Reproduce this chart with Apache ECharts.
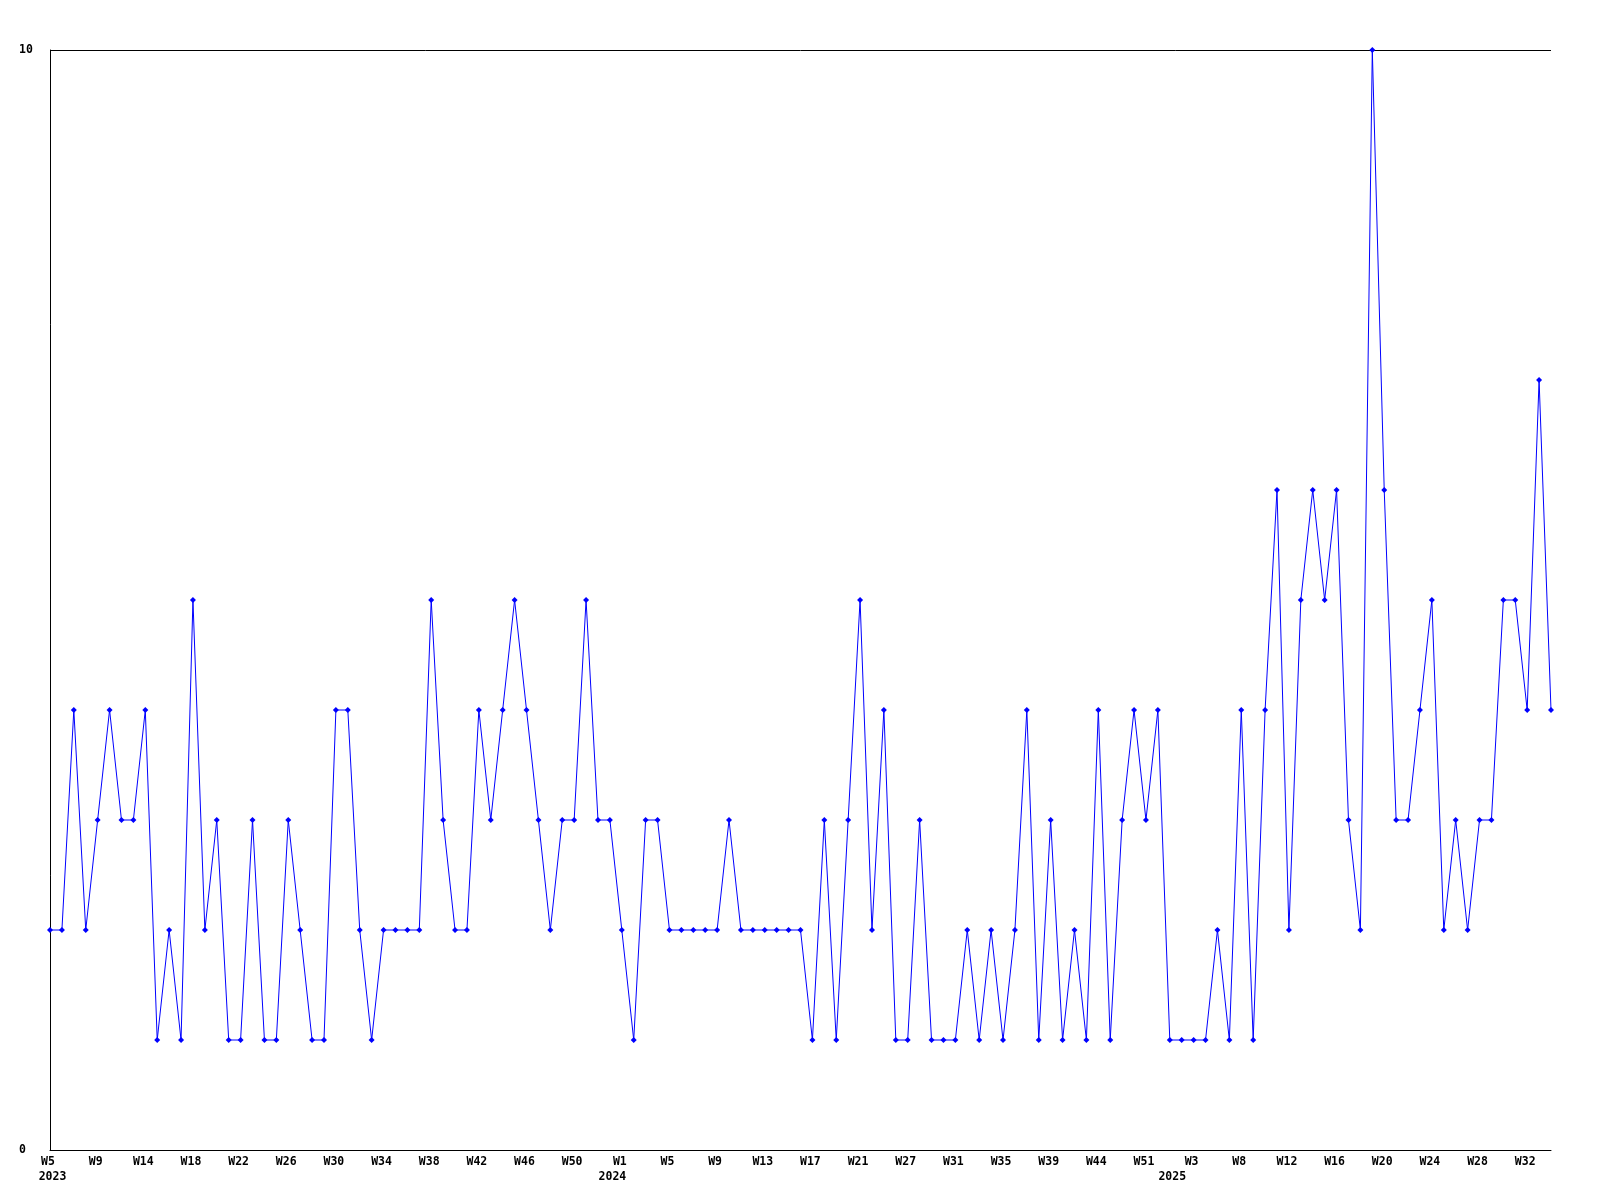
<!DOCTYPE html>
<html>
<head>
<meta charset="utf-8">
<script src="https://cdn.jsdelivr.net/npm/echarts@6/dist/echarts.min.js"></script>
<style>
  html, body { margin: 0; padding: 0; background: #ffffff; }
  #chart { width: 1600px; height: 1200px; }
</style>
</head>
<body>
<div id="chart"></div>
<script>
// Week categories (year-week) in data order
const categories = [
  '2023-W5','2023-W6','2023-W7','2023-W8','2023-W9','2023-W10','2023-W11','2023-W13','2023-W14','2023-W15',
  '2023-W16','2023-W17','2023-W18','2023-W19','2023-W20','2023-W21','2023-W22','2023-W23','2023-W24','2023-W25',
  '2023-W26','2023-W27','2023-W28','2023-W29','2023-W30','2023-W31','2023-W32','2023-W33','2023-W34','2023-W35',
  '2023-W36','2023-W37','2023-W38','2023-W39','2023-W40','2023-W41','2023-W42','2023-W43','2023-W44','2023-W45',
  '2023-W46','2023-W47','2023-W48','2023-W49','2023-W50','2023-W51','2023-W52',
  '2024-W0','2024-W1','2024-W2','2024-W3','2024-W4','2024-W5','2024-W6','2024-W7','2024-W8','2024-W9','2024-W10',
  '2024-W11','2024-W12','2024-W13','2024-W14','2024-W15','2024-W16','2024-W17','2024-W18','2024-W19','2024-W20',
  '2024-W21','2024-W22','2024-W24','2024-W25','2024-W27','2024-W28','2024-W29','2024-W30','2024-W31','2024-W32',
  '2024-W33','2024-W34','2024-W35','2024-W36','2024-W37','2024-W38','2024-W39','2024-W40','2024-W42','2024-W43',
  '2024-W44','2024-W46','2024-W48','2024-W49','2024-W51','2024-W52',
  '2025-W1','2025-W2','2025-W3','2025-W4','2025-W5','2025-W7','2025-W8','2025-W9','2025-W10','2025-W11',
  '2025-W12','2025-W13','2025-W14','2025-W15','2025-W16','2025-W17','2025-W18','2025-W19','2025-W20','2025-W21',
  '2025-W22','2025-W23','2025-W24','2025-W25','2025-W26','2025-W27','2025-W28','2025-W29','2025-W30','2025-W31',
  '2025-W32','2025-W33','2025-W34'
];

// Weekly counts
const values = [
  2,2,4,2,3,4,3,3,4,1,
  2,1,5,2,3,1,1,3,1,1,
  3,2,1,1,4,4,2,1,2,2,
  2,2,5,3,2,2,4,3,4,5,
  4,3,2,3,3,5,3,3,
  2,1,3,3,2,2,2,2,2,3,
  2,2,2,2,2,2,1,3,1,3,
  5,2,4,1,1,3,1,1,1,2,
  1,2,1,2,4,1,3,1,2,1,
  4,1,3,4,3,4,
  1,1,1,1,2,1,4,1,4,6,
  2,5,6,5,6,3,2,10,6,3,
  3,4,5,2,3,2,3,3,5,5,
  4,7,4
];

// Y axis ticks
const yTicks = [0, 10];

const fontFamily = '"DejaVu Sans Mono", "Liberation Mono", monospace';

function yearOf(c) { return c.split('-')[0]; }
function weekOf(c) { return c.split('-')[1]; }
function isFirstOfYear(index) {
  return index === 0 || yearOf(categories[index]) !== yearOf(categories[index - 1]);
}

const labelBase = {
  color: '#000000',
  fontFamily: fontFamily,
  fontWeight: 'bold',
  fontSize: 11.5
};

const chart = echarts.init(document.getElementById('chart'), null, { renderer: 'canvas' });
chart.setOption({
  animation: false,
  backgroundColor: '#ffffff',
  grid: { left: 50, right: 49, top: 50, bottom: 50, containLabel: false },
  xAxis: [{
    type: 'category',
    data: categories,
    boundaryGap: false,
    axisLine: { show: true, lineStyle: { color: '#000000', width: 1 } },
    axisTick: { show: false },
    splitLine: { show: false },
    axisLabel: Object.assign({}, labelBase, {
      interval: 3,
      margin: 6,
      padding: [0, 4, 0, 0],
      formatter: function (v) { return weekOf(v); }
    })
  }, {
    type: 'category',
    data: categories,
    boundaryGap: false,
    position: 'bottom',
    axisLine: { show: false },
    axisTick: { show: false },
    splitLine: { show: false },
    axisLabel: Object.assign({}, labelBase, {
      interval: function (index) { return isFirstOfYear(index); },
      margin: 21,
      padding: [0, 0, 0, 5],
      formatter: function (v) { return yearOf(v); }
    })
  }],
  yAxis: {
    type: 'value',
    min: yTicks[0],
    max: yTicks[yTicks.length - 1],
    interval: yTicks[1] - yTicks[0],
    axisLine: { show: true, lineStyle: { color: '#000000', width: 1 } },
    axisTick: { show: false },
    splitLine: { show: true, lineStyle: { color: '#000000', width: 1 } },
    axisLabel: Object.assign({}, labelBase, {
      align: 'left',
      margin: 31
    })
  },
  series: [{
    type: 'line',
    xAxisIndex: 0,
    data: values,
    symbol: 'diamond',
    symbolSize: 6,
    showAllSymbol: true,
    lineStyle: { color: '#0000ff', width: 1 },
    itemStyle: { color: '#0000ff' },
    emphasis: { disabled: true }
  }]
});
</script>
</body>
</html>
